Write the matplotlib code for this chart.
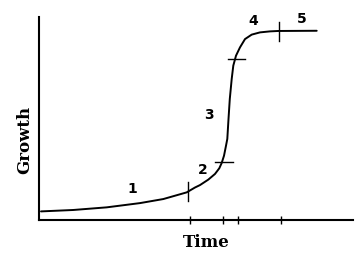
import matplotlib
matplotlib.use("Agg")
import matplotlib.pyplot as plt

# Growth curve (time 0-10, growth 0-1)
time = [0.064, 1.092, 2.156, 3.217, 3.959, 4.704, 4.968, 5.127, 5.392, 5.605,
        5.742, 5.818, 5.892, 5.955, 5.997, 6.035, 6.076, 6.137, 6.188, 6.274,
        6.401, 6.561, 6.774, 7.038, 7.357, 7.621, 8.844]
growth = [0.040, 0.047, 0.060, 0.081, 0.101, 0.134, 0.158, 0.170, 0.197, 0.225,
          0.253, 0.279, 0.315, 0.364, 0.398, 0.496, 0.595, 0.694, 0.760, 0.809,
          0.850, 0.891, 0.913, 0.924, 0.929, 0.931, 0.932]

# phase boundaries on the x axis
phase_ticks = [4.81, 5.86, 6.34, 7.71]

# short marks crossing the curve: vertical (t, g_lo, g_hi), horizontal (g, t_lo, t_hi)
vert_marks = [(4.75, 0.091, 0.185), (7.65, 0.881, 0.975)]
horiz_marks = [(0.285, 5.61, 6.18), (0.793, 6.03, 6.57)]

# phase numbers
phase_labels = ["1", "2", "3", "4", "5"]
label_t = [2.96, 5.21, 5.41, 6.82, 8.38]
label_g = [0.156, 0.249, 0.521, 0.985, 0.995]

fig = plt.figure(figsize=(3.63, 2.55), dpi=100)
ax = fig.add_axes([39 / 363, 1 - 220.5 / 255, 314 / 363, 202.5 / 255])

ax.plot(time, growth, color="black", linewidth=1.4, solid_capstyle="round",
        solid_joinstyle="round")

for t, g0, g1 in vert_marks:
    ax.plot([t, t], [g0, g1], color="black", linewidth=1.0)
for g, t0, t1 in horiz_marks:
    ax.plot([t0, t1], [g, g], color="black", linewidth=1.0)

for lab, t, g in zip(phase_labels, label_t, label_g):
    ax.text(t, g, lab, ha="center", va="center", fontsize=10,
            fontweight="bold", family="DejaVu Sans", clip_on=False)

ax.set_xlim(0, 10)
ax.set_ylim(0, 1)
ax.set_xticks(phase_ticks)
ax.set_xticklabels([])
ax.set_yticks([])
ax.tick_params(axis="x", direction="inout", length=6, width=1.0, color="black")

for side in ["top", "right"]:
    ax.spines[side].set_visible(False)
for side in ["left", "bottom"]:
    ax.spines[side].set_linewidth(1.5)

ax.set_xlabel("Time", fontsize=12, fontweight="bold", family="DejaVu Serif", va="center")
ax.xaxis.set_label_coords(0.533, -0.111)
ax.set_ylabel("Growth", fontsize=12, fontweight="bold", family="DejaVu Serif",
              va="center", ha="center")
ax.yaxis.set_label_coords(-0.045, 0.398)

fig.savefig("out.png", dpi=100)
